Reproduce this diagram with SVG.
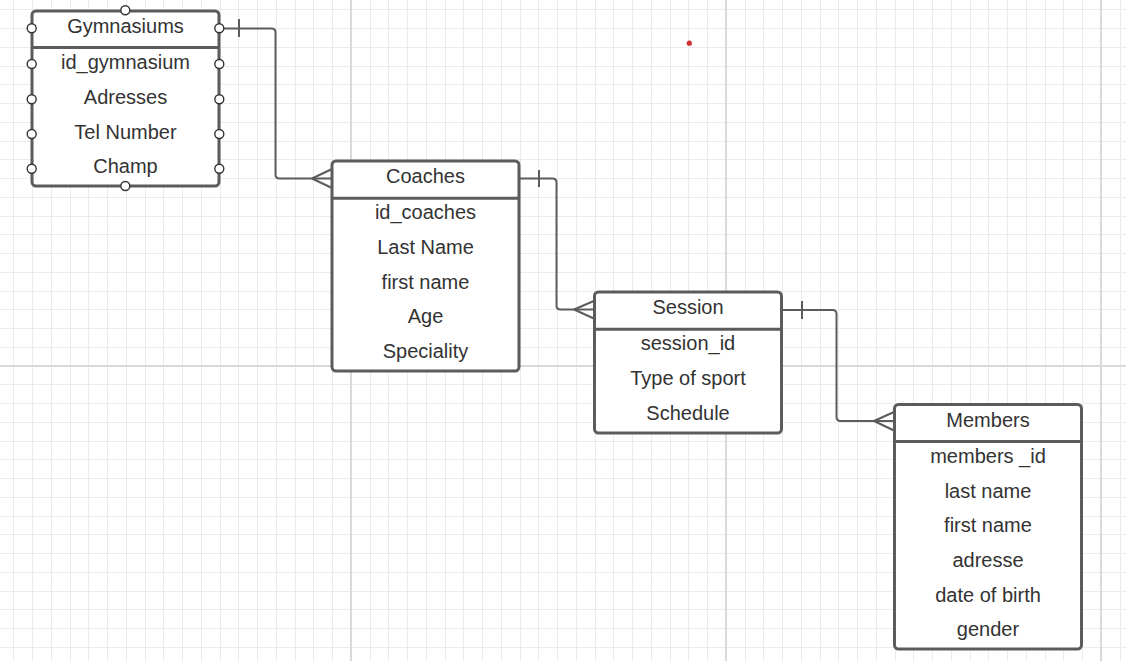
<svg xmlns="http://www.w3.org/2000/svg" width="1126" height="661" viewBox="0 0 1126 661">
<style>
.minor{stroke:#ebebeb;stroke-width:1;fill:none}
.major{stroke:#dadada;stroke-width:2;fill:none}
.box{fill:#ffffff;stroke:#5c5c5c;stroke-width:3}
.div{stroke:#5c5c5c;stroke-width:3}
.t{font-family:"Liberation Sans",Arial,sans-serif;font-size:20px;fill:#333333;text-anchor:middle}
.conn{fill:none;stroke:#5c5c5c;stroke-width:2}
.h{fill:#ffffff;stroke:#333333;stroke-width:1.4}
</style>
<rect width="1126" height="661" fill="#ffffff"/>
<g id="grid">
<path class="minor" d="M13.5 0V661M32.5 0V661M51.5 0V661M70.5 0V661M88.5 0V661M107.5 0V661M126.5 0V661M145.5 0V661M163.5 0V661M182.5 0V661M201.5 0V661M220.5 0V661M238.5 0V661M257.5 0V661M276.5 0V661M295.5 0V661M313.5 0V661M332.5 0V661M370.5 0V661M388.5 0V661M407.5 0V661M426.5 0V661M445.5 0V661M463.5 0V661M482.5 0V661M501.5 0V661M520.5 0V661M538.5 0V661M557.5 0V661M576.5 0V661M595.5 0V661M613.5 0V661M632.5 0V661M651.5 0V661M670.5 0V661M688.5 0V661M707.5 0V661M745.5 0V661M763.5 0V661M782.5 0V661M801.5 0V661M820.5 0V661M838.5 0V661M857.5 0V661M876.5 0V661M895.5 0V661M913.5 0V661M932.5 0V661M951.5 0V661M970.5 0V661M988.5 0V661M1007.5 0V661M1026.5 0V661M1045.5 0V661M1063.5 0V661M1082.5 0V661M1120.5 0V661"/>
<path class="minor" d="M0 9.5H1126M0 28.5H1126M0 47.5H1126M0 66.5H1126M0 84.5H1126M0 103.5H1126M0 122.5H1126M0 141.5H1126M0 159.5H1126M0 178.5H1126M0 197.5H1126M0 216.5H1126M0 234.5H1126M0 253.5H1126M0 272.5H1126M0 291.5H1126M0 309.5H1126M0 328.5H1126M0 347.5H1126M0 384.5H1126M0 403.5H1126M0 422.5H1126M0 441.5H1126M0 459.5H1126M0 478.5H1126M0 497.5H1126M0 516.5H1126M0 534.5H1126M0 553.5H1126M0 572.5H1126M0 591.5H1126M0 609.5H1126M0 628.5H1126M0 647.5H1126"/>
<path class="major" d="M351 0V661M726 0V661M1101 0V661M0 366H1126"/>
</g>
<g id="connectors">
<path class="conn" d="M219 28.5H271.5Q275.5 28.5 275.5 32.5V174.5Q275.5 178.5 279.5 178.5H332"/>
<path class="conn" d="M239 19V37M312 178.5L332 169M312 178.5L332 188"/>
<path class="conn" d="M519 178.5H552.5Q556.5 178.5 556.5 182.5V305.5Q556.5 309.5 560.5 309.5H595"/>
<path class="conn" d="M539 170V187M574 309.5L595 300.5M574 309.5L595 319"/>
<path class="conn" d="M781 310H832.5Q836.5 310 836.5 314V417Q836.5 421 840.5 421H894"/>
<path class="conn" d="M802 301V319M874 421L894 412M874 421L894 430.5"/>
</g>
<g id="gymnasiums">
<rect class="box" x="32" y="11" width="187" height="175" rx="4"/>
<line class="div" x1="32" y1="47.5" x2="219" y2="47.5"/>
<text class="t" x="125.5" y="33.3">Gymnasiums</text>
<text class="t" x="125.5" y="69">id_gymnasium</text>
<text class="t" x="125.5" y="104.3">Adresses</text>
<text class="t" x="125.5" y="138.5">Tel Number</text>
<text class="t" x="125.5" y="172.8">Champ</text>
<circle class="h" cx="31.7" cy="28.3" r="4.5"/>
<circle class="h" cx="31.7" cy="64" r="4.5"/>
<circle class="h" cx="31.7" cy="99.3" r="4.5"/>
<circle class="h" cx="31.7" cy="134" r="4.5"/>
<circle class="h" cx="31.7" cy="168.7" r="4.5"/>
<circle class="h" cx="219.3" cy="28.3" r="4.5"/>
<circle class="h" cx="219.3" cy="64" r="4.5"/>
<circle class="h" cx="219.3" cy="99.3" r="4.5"/>
<circle class="h" cx="219.3" cy="134" r="4.5"/>
<circle class="h" cx="219.3" cy="168.7" r="4.5"/>
<circle class="h" cx="125.3" cy="10.3" r="4.5"/>
<circle class="h" cx="125.3" cy="186" r="4.5"/>
</g>
<g id="coaches">
<rect class="box" x="332" y="161" width="187" height="210" rx="4"/>
<line class="div" x1="332" y1="198.3" x2="519" y2="198.3"/>
<text class="t" x="425.5" y="183.3">Coaches</text>
<text class="t" x="425.5" y="219">id_coaches</text>
<text class="t" x="425.5" y="254.3">Last Name</text>
<text class="t" x="425.5" y="288.7">first name</text>
<text class="t" x="425.5" y="323.3">Age</text>
<text class="t" x="425.5" y="357.7">Speciality</text>
</g>
<g id="session">
<rect class="box" x="594.5" y="292" width="187" height="141" rx="4"/>
<line class="div" x1="594.5" y1="329.3" x2="781.5" y2="329.3"/>
<text class="t" x="688" y="314">Session</text>
<text class="t" x="688" y="350">session_id</text>
<text class="t" x="688" y="385.3">Type of sport</text>
<text class="t" x="688" y="419.5">Schedule</text>
</g>
<g id="members">
<rect class="box" x="894.5" y="404.5" width="187" height="244.5" rx="4"/>
<line class="div" x1="894.5" y1="441.5" x2="1081.5" y2="441.5"/>
<text class="t" x="988" y="426.7">Members</text>
<text class="t" x="988" y="463.3">members _id</text>
<text class="t" x="988" y="497.5">last name</text>
<text class="t" x="988" y="532.3">first name</text>
<text class="t" x="988" y="566.7">adresse</text>
<text class="t" x="988" y="601.7">date of birth</text>
<text class="t" x="988" y="635.5">gender</text>
</g>
<circle id="dot" cx="689.3" cy="43.2" r="2.6" fill="#d32f2f"/>
</svg>
